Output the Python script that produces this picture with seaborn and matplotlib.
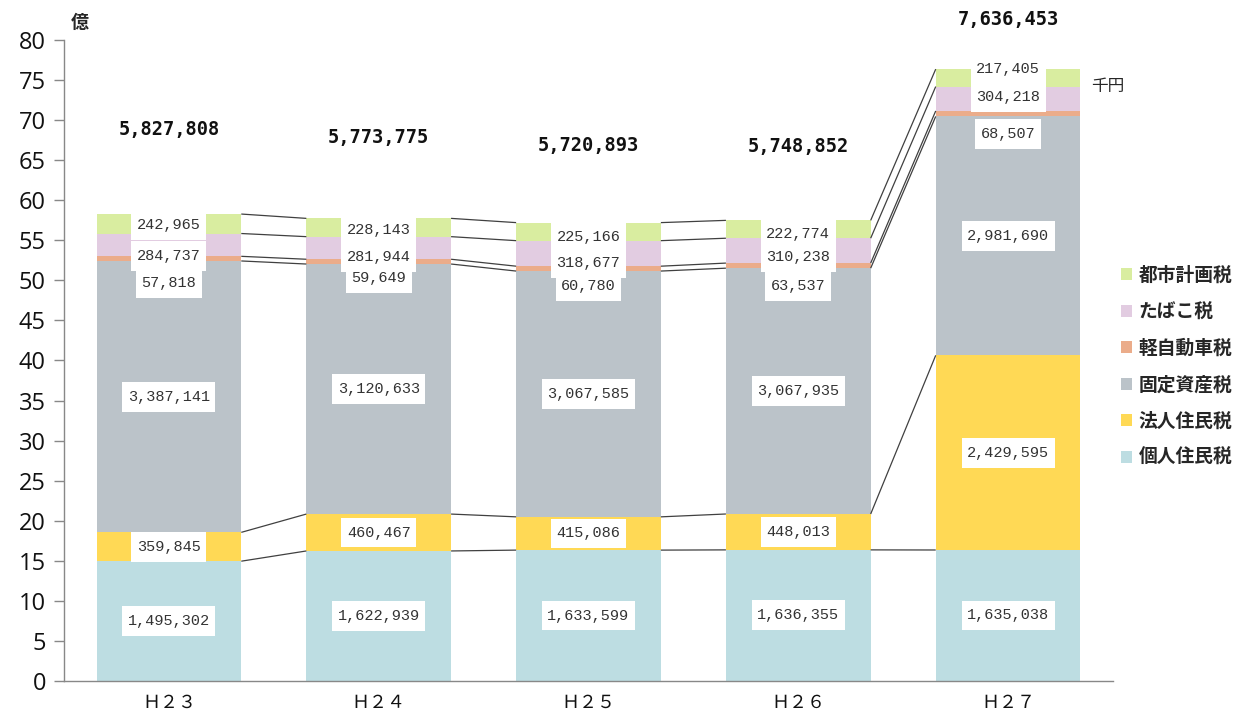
import numpy as np
import pandas as pd
import matplotlib
matplotlib.use("Agg")
import matplotlib.pyplot as plt
from matplotlib.patches import Patch
from matplotlib.path import Path
import seaborn as sns

# ---- data (千円) ----
years = ["Ｈ２３", "Ｈ２４", "Ｈ２５", "Ｈ２６", "Ｈ２７"]
kojin = [1495302, 1622939, 1633599, 1636355, 1635038]      # 個人住民税
hojin = [359845, 460467, 415086, 448013, 2429595]          # 法人住民税
kotei = [3387141, 3120633, 3067585, 3067935, 2981690]      # 固定資産税
keiji = [57818, 59649, 60780, 63537, 68507]                # 軽自動車税
tabako = [284737, 281944, 318677, 310238, 304218]          # たばこ税
toshi = [242965, 228143, 225166, 222774, 217405]           # 都市計画税
series_names = ["個人住民税", "法人住民税", "固定資産税", "軽自動車税", "たばこ税", "都市計画税"]
totals = [5827808, 5773775, 5720893, 5748852, 7636453]

# ---- styles / layout ----
colors = ["#BDDDE2", "#FFD955", "#BBC3C9", "#EBAC8A", "#E2CCE1", "#D9EDA0"]
bar_w = 0.69
# label y-positions (億) for the thin segments, placed by hand as in the reference
small_label_y = {
    3: [49.7, 50.3, 49.3, 49.3, 68.3],
    4: [53.06, 52.9, 52.2, 52.9, 72.9],
    5: [56.9, 56.3, 55.4, 55.8, 76.4],
}
total_label_y = [68.8, 67.8, 66.8, 66.7, 82.5]


def label_box(x0, y0, width, height, mutation_size):
    px = 0.36 * mutation_size
    py = 0.52 * mutation_size
    x1, y1 = x0 - px, y0 - py
    x2, y2 = x0 + width + px, y0 + height + py
    return Path([(x1, y1), (x2, y1), (x2, y2), (x1, y2), (x1, y1)],
                [Path.MOVETO, Path.LINETO, Path.LINETO, Path.LINETO, Path.CLOSEPOLY])


sns.set_theme(style="white")
plt.rcParams["font.family"] = ["Noto Sans CJK JP", "DejaVu Sans"]

fig = plt.figure(figsize=(12.37, 7.17), dpi=100)
ax = fig.add_axes([64 / 1237, 1 - 681 / 717, (1113 - 64) / 1237, (681 - 40) / 717])

vals = np.array([kojin, hojin, kotei, keiji, tabako, toshi], dtype=float) / 100000.0
cum = np.cumsum(vals, axis=0)

# stacked bars: draw cumulative heights from the top layer down
for k in range(len(series_names) - 1, -1, -1):
    df = pd.DataFrame({"year": years, "v": cum[k]})
    sns.barplot(data=df, x="year", y="v", color=colors[k], width=bar_w,
                saturation=1, edgecolor="none", linewidth=0, ax=ax, zorder=2)

# series lines between bars
x = np.arange(len(years))
for k in range(len(series_names)):
    for i in range(len(years) - 1):
        ax.plot([x[i] + bar_w / 2, x[i + 1] - bar_w / 2], [cum[k][i], cum[k][i + 1]],
                color="#404040", lw=0.9, zorder=3, solid_capstyle="butt")

raw = [kojin, hojin, kotei, keiji, tabako, toshi]
bbox = dict(boxstyle=label_box, fc="white", ec="none")
for k in range(len(series_names)):
    for i in range(len(years)):
        if k in small_label_y:
            yy = small_label_y[k][i]
        else:
            yy = cum[k][i] - vals[k][i] / 2
        ax.text(x[i], yy, f"{raw[k][i]:,}", ha="center", va="center",
                fontsize=11, family="Liberation Mono", color="#333333",
                bbox=bbox, zorder=5, clip_on=False)

for i in range(len(years)):
    ax.text(x[i], total_label_y[i], f"{totals[i]:,}", ha="center", va="center",
            fontsize=13.5, family="DejaVu Sans Mono", fontweight="bold",
            color="#111111", clip_on=False, zorder=6)

ax.set_xlim(-0.5, 4.5)
ax.set_ylim(0, 80)
ax.set_yticks(np.arange(0, 81, 5))
ax.set_xlabel("")
ax.set_ylabel("")
for s in ["top", "right"]:
    ax.spines[s].set_visible(False)
for s in ["left", "bottom"]:
    ax.spines[s].set_color("#888888")
    ax.spines[s].set_linewidth(1.0)
ax.tick_params(axis="y", which="both", left=True, length=7, width=1, color="#888888",
               labelsize=17, pad=6)
ax.tick_params(axis="x", which="both", bottom=False, length=0, labelsize=13, pad=9)
for lab in ax.get_yticklabels():
    lab.set_fontfamily("Open Sans")
    lab.set_color("#111111")
for lab in ax.get_xticklabels():
    lab.set_color("#111111")

fig.text(80 / 1237, 1 - 22 / 717, "億", fontsize=13, fontweight="bold", ha="center", va="center")
fig.text(1108 / 1237, 1 - 87 / 717, "千円", fontsize=12, ha="center", va="center")

handles = [Patch(facecolor=colors[k], edgecolor="none") for k in range(len(series_names) - 1, -1, -1)]
labels = [series_names[k] for k in range(len(series_names) - 1, -1, -1)]
fig.legend(handles, labels, loc="upper left", bbox_to_anchor=(1121 / 1237, 1 - 266 / 717),
           frameon=False, handlelength=0.6, handleheight=0.6, handletextpad=0.35,
           labelspacing=0.93, borderpad=0, borderaxespad=0,
           prop={"family": "Noto Sans CJK JP", "weight": "bold", "size": 13.5})

fig.savefig("out.png", dpi=100)
